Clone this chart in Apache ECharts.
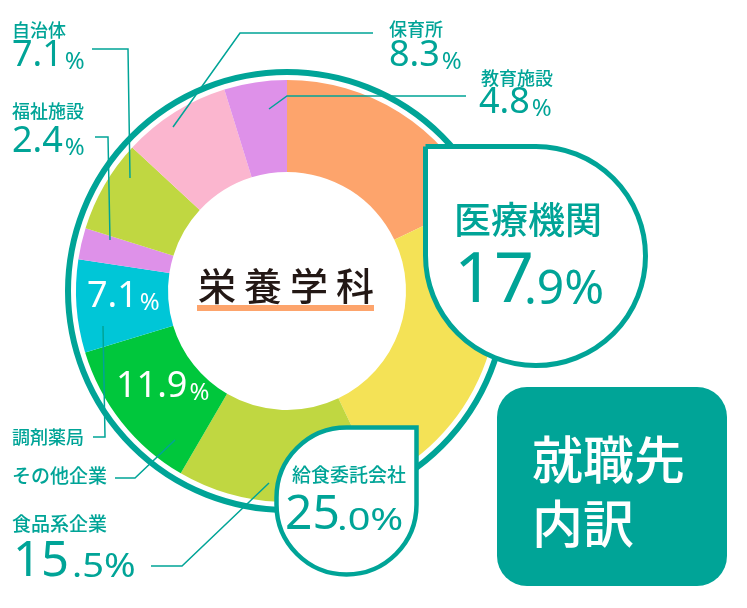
<!DOCTYPE html>
<html>
<head>
<meta charset="utf-8">
<script src="https://cdn.jsdelivr.net/npm/echarts@6/dist/echarts.min.js"></script>
<style>
html,body{margin:0;padding:0;background:#fff;}
#chart{width:747px;height:608px;}
</style>
</head>
<body>
<div id="chart"></div>
<script>
// 就職先内訳（栄養学科）
var names = ['医療機関', '給食委託会社', '食品系企業', 'その他企業', '調剤薬局', '福祉施設', '自治体', '保育所', '教育施設'];
var values = [17.9, 25.0, 15.5, 11.9, 7.1, 2.4, 7.1, 8.3, 4.8];
var colors = ['#fda46c', '#f4e256', '#c0d741', '#00c73c', '#00c6d7', '#de91e9', '#c0d741', '#fbb6cf', '#de91e9'];

var teal = '#00a497';
var jp = '"Noto Sans CJK JP", sans-serif';
var num = '"Noto Sans", sans-serif';

var chart = echarts.init(document.getElementById('chart'));

// 数値ラベル（%だけ小さく）
function valueText(i, x, y, big, small, color) {
    var s = values[i].toFixed(1);
    return {
        type: 'text', z: 20,
        style: {
            text: '{n|' + s + '}{p|%}', x: x, y: y,
            align: 'left', textAlign: 'left',
            verticalAlign: 'middle', textVerticalAlign: 'middle',
            rich: {
                n: {fontSize: big, fontFamily: num, fill: color, verticalAlign: 'bottom', lineHeight: Math.round(big * 0.78)},
                p: {fontSize: small, fontFamily: num, fill: color, verticalAlign: 'bottom', lineHeight: Math.round(small * 0.78), padding: [0, 0, 0, 2]}
            }
        }
    };
}
// 吹き出し用：整数部は大きく、小数部と%は小さく横長に
function splitValue(i, x, y, big, x2, y2, small, sx) {
    var p = values[i].toFixed(1).split('.');
    return [{
        type: 'text', z: 20, x: x, y: y,
        style: {text: p[0], x: 0, y: 0, align: 'left', textAlign: 'left', verticalAlign: 'middle', textVerticalAlign: 'middle',
            fontSize: big, fontFamily: num, fill: teal}
    }, {
        type: 'text', z: 20, x: x2, y: y2, scaleX: sx,
        style: {text: '.' + p[1] + '%', x: 0, y: 0, align: 'left', textAlign: 'left', verticalAlign: 'middle', textVerticalAlign: 'middle',
            fontSize: small, fontFamily: num, fill: teal}
    }];
}
function nameText(i, x, y, size, color) {
    return {
        type: 'text', z: 20,
        style: {
            text: names[i], x: x, y: y,
            align: 'left', textAlign: 'left',
            verticalAlign: 'middle', textVerticalAlign: 'middle',
            fontSize: size, fontFamily: jp, fontWeight: 500, fill: color || teal
        }
    };
}
function leader(pts) {
    return {
        type: 'polyline', z: 15, silent: true,
        shape: {points: pts},
        style: {fill: 'none', stroke: teal, lineWidth: 1.5}
    };
}

var graphics = [
    // 外側のリング
    {type: 'circle', z: 1, shape: {cx: 287, cy: 291, r: 219}, style: {fill: 'none', stroke: teal, lineWidth: 6}},
    // 引き出し線
    leader([[92, 49], [128, 49], [130, 178]]),
    leader([[95, 137], [108, 137], [110, 240]]),
    leader([[373, 33], [240, 33], [173, 127]]),
    leader([[466, 96], [287, 96], [269, 109]]),
    leader([[93, 437], [105, 437], [103, 326]]),
    leader([[115, 478], [135, 478], [175, 440]]),
    leader([[151, 566], [182, 566], [269, 483]]),
    // 吹き出し
    {type: 'rect', z: 18, shape: {x: 425.5, y: 146.5, width: 220, height: 219, r: [0, 110, 110, 110]},
        style: {fill: '#fff', stroke: teal, lineWidth: 5}},
    {type: 'rect', z: 18, shape: {x: 276.5, y: 427.5, width: 140, height: 147, r: [70, 0, 70, 70]},
        style: {fill: '#fff', stroke: teal, lineWidth: 4.5}},
    // タイトルボックス
    {type: 'rect', z: 18, shape: {x: 497, y: 387, width: 230, height: 199, r: 30}, style: {fill: teal}},
    {type: 'text', z: 20, style: {
        text: '就職先\n内訳', x: 532, y: 492,
        align: 'left', textAlign: 'left', verticalAlign: 'middle', textVerticalAlign: 'middle',
        fontSize: 51, lineHeight: 64, fontFamily: jp, fontWeight: 500, fill: '#fff'
    }},
    // 中央
    {type: 'rect', z: 18, shape: {x: 197, y: 305, width: 177, height: 6}, style: {fill: '#fda46c'}},
    {type: 'text', z: 20, style: {
        text: '{c|栄}{c|養}{c|学}{c|科}', x: 286, y: 286,
        align: 'center', textAlign: 'center', verticalAlign: 'middle', textVerticalAlign: 'middle',
        rich: {c: {fontSize: 38, fontFamily: jp, fontWeight: 500, fill: '#231815', padding: [0, 4, 0, 4]}}
    }},
    // ラベル
    nameText(6, 12, 30, 18), valueText(6, 12, 60, 36, 24, teal),
    nameText(5, 12, 111, 18), valueText(5, 12, 146, 36, 24, teal),
    nameText(7, 389, 29, 18), valueText(7, 389, 60, 36, 24, teal),
    nameText(8, 481, 78, 18), valueText(8, 479, 107, 36, 24, teal),
    nameText(0, 454, 220, 37),
    valueText(4, 87, 301, 36, 24, '#fff'),
    valueText(3, 116, 391, 36, 24, '#fff'),
    nameText(4, 12, 437, 18),
    nameText(3, 12, 476, 19),
    nameText(2, 12, 524, 19),
    nameText(1, 292, 475, 19)
].concat(
    splitValue(0, 454, 282, 70, 524, 290, 48, 1),
    splitValue(2, 13, 562, 49, 72, 568, 32, 1.19),
    splitValue(1, 285, 515, 48, 337, 521, 31, 1.28)
);

var option = {
    backgroundColor: '#fff',
    animation: false,
    series: [{
        type: 'pie',
        silent: true,
        center: [287, 291],
        radius: [119, 211],
        startAngle: 90,
        clockwise: true,
        label: {show: false},
        labelLine: {show: false},
        itemStyle: {borderWidth: 0},
        data: names.map(function (n, i) {
            return {name: n, value: values[i], itemStyle: {color: colors[i]}};
        })
    }],
    graphic: graphics
};
chart.setOption(option);
</script>
</body>
</html>
